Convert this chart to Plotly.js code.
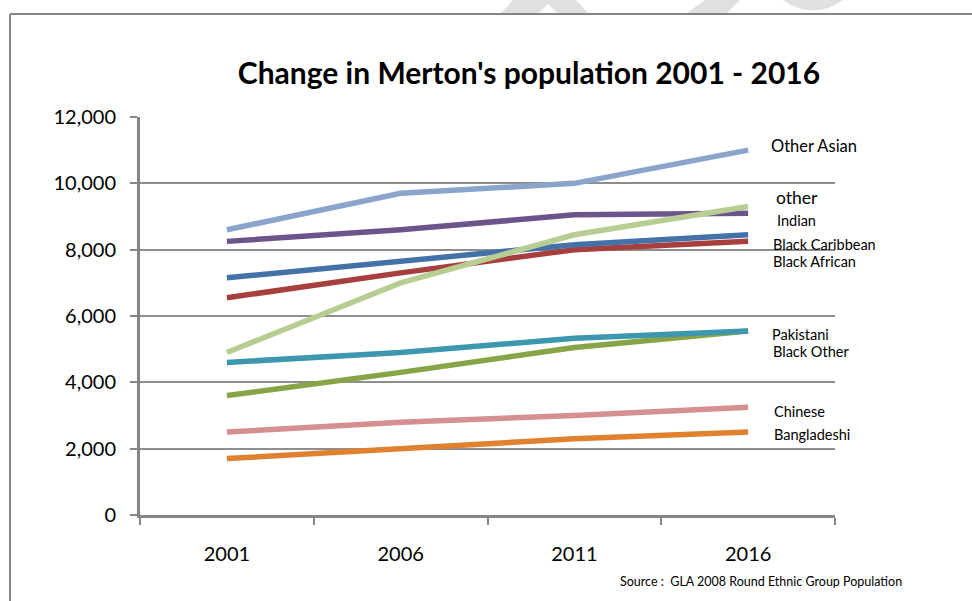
<!DOCTYPE html>
<html>
<head>
<meta charset="utf-8">
<script src="https://cdn.plot.ly/plotly-3.0.1.min.js"></script>
<style>html,body{margin:0;padding:0;background:#fff;}#chart{width:972px;height:601px;}</style>
</head>
<body>
<div id="chart"></div>
<script>
// Data
const years = ["2001", "2006", "2011", "2016"];
const seriesNames = ["Bangladeshi", "Chinese", "Black Other", "Pakistani", "Black African", "Black Caribbean", "Indian", "other", "Other Asian"];
const bangladeshi = [1700, 2000, 2300, 2500];
const chinese = [2500, 2800, 3000, 3250];
const blackOther = [3600, 4300, 5050, 5550];
const pakistani = [4600, 4900, 5330, 5550];
const blackAfrican = [6550, 7300, 8000, 8250];
const blackCaribbean = [7150, 7650, 8150, 8450];
const indian = [8250, 8600, 9050, 9100];
const otherGroup = [4900, 7000, 8450, 9300];
const otherAsian = [8600, 9700, 10000, 11000];
const yTicks = [0, 2000, 4000, 6000, 8000, 10000, 12000];

const values = [bangladeshi, chinese, blackOther, pakistani, blackAfrican, blackCaribbean, indian, otherGroup, otherAsian];
const colors = ["#E0812F", "#D58F91", "#87A546", "#3C97AF", "#A7403D", "#4371A8", "#6E548C", "#B7CD92", "#8BA4CC"];

// plot area in pixels
const L = 140, R = 835, T = 117, B = 515;
const px = x => (x - L) / (R - L);
const py = y => (B - y) / (B - T);

const traces = values.map((v, i) => ({
  x: years, y: v, name: seriesNames[i], type: "scatter", mode: "lines",
  line: {color: colors[i], width: 5.5}, hoverinfo: "skip"
}));

const font = "Lato, 'Open Sans', sans-serif";
const labels = [
  {t: "Other Asian", x: 769, y: 146, s: 16.5},
  {t: "other", x: 774, y: 197, s: 17.5},
  {t: "Indian", x: 775, y: 220, s: 14.5},
  {t: "Black Caribbean", x: 771, y: 244, s: 14.5},
  {t: "Black African", x: 771, y: 261, s: 14.5},
  {t: "Pakistani", x: 770, y: 334, s: 14.5},
  {t: "Black Other", x: 771, y: 351, s: 14.5},
  {t: "Chinese", x: 772, y: 411, s: 14.5},
  {t: "Bangladeshi", x: 772, y: 434, s: 14.5}
];
const annotations = labels.map(l => ({
  text: l.t, xref: "paper", yref: "paper", x: px(l.x), y: py(l.y),
  xanchor: "left", yanchor: "middle", showarrow: false,
  font: {family: font, size: l.s, color: "#000"}
}));
annotations.push({
  text: "Source :  GLA 2008 Round Ethnic Group Population", xref: "paper", yref: "paper",
  x: px(618), y: py(581), xanchor: "left", yanchor: "middle", showarrow: false,
  font: {family: font, size: 12.5, color: "#000"}
});

function path(pts) {
  return "M" + pts.map(p => px(p[0]) + "," + py(p[1])).join(" L") + " Z";
}
const wm = "#E0E0E0";
const shapes = [
  {type: "path", xref: "paper", yref: "paper", layer: "below", line: {width: 0}, fillcolor: wm,
   path: path([[501, 13], [513, 0], [576, 0], [588, 13], [557, 13], [548, 4], [539, 13]])},
  {type: "path", xref: "paper", yref: "paper", layer: "below", line: {width: 0}, fillcolor: wm,
   path: path([[687, 13], [705, 0], [740, 0], [727, 13]])},
  {type: "path", xref: "paper", yref: "paper", layer: "below", line: {width: 0}, fillcolor: wm,
   path: "M" + px(783) + "," + py(0) + " Q" + px(813) + "," + py(21) + " " + px(843) + "," + py(0) + " Z"},
  // frame
  {type: "line", xref: "paper", yref: "paper", x0: px(10), x1: px(975), y0: py(14), y1: py(14), line: {color: "#858585", width: 2}},
  {type: "line", xref: "paper", yref: "paper", x0: px(10), x1: px(10), y0: py(14), y1: py(605), line: {color: "#858585", width: 2}}
];

const layout = {
  width: 972, height: 601,
  margin: {l: L, r: 972 - R, t: T, b: 601 - B, pad: 0},
  paper_bgcolor: "#fff", plot_bgcolor: "#fff",
  showlegend: false,
  title: {text: "<b>Change in Merton's population 2001 - 2016</b>", x: 529 / 972, xanchor: "center",
          y: 1 - 73 / 601, yanchor: "middle", font: {family: font, size: 30, color: "#000"}},
  xaxis: {type: "category", range: [-0.5, 3.5], tickson: "boundaries", ticks: "outside", ticklen: 7,
          tickwidth: 2, tickcolor: "#868686", showline: true, linecolor: "#868686", linewidth: 3,
          showgrid: false, zeroline: false, ticklabelstandoff: 19,
          tickfont: {family: font, size: 20, color: "#000"}, fixedrange: true},
  yaxis: {range: [0, 12000], tickvals: yTicks, tickformat: ",d", ticks: "outside", ticklen: 7,
          tickwidth: 2, tickcolor: "#868686", showline: true, linecolor: "#868686", linewidth: 3,
          showgrid: true, gridcolor: "#8E8E8E", gridwidth: 2, zeroline: false, ticklabelstandoff: 10,
          tickfont: {family: font, size: 20, color: "#000"}, fixedrange: true},
  shapes: shapes,
  annotations: annotations
};

Plotly.newPlot("chart", traces, layout, {staticPlot: true, displayModeBar: false});
</script>
</body>
</html>
